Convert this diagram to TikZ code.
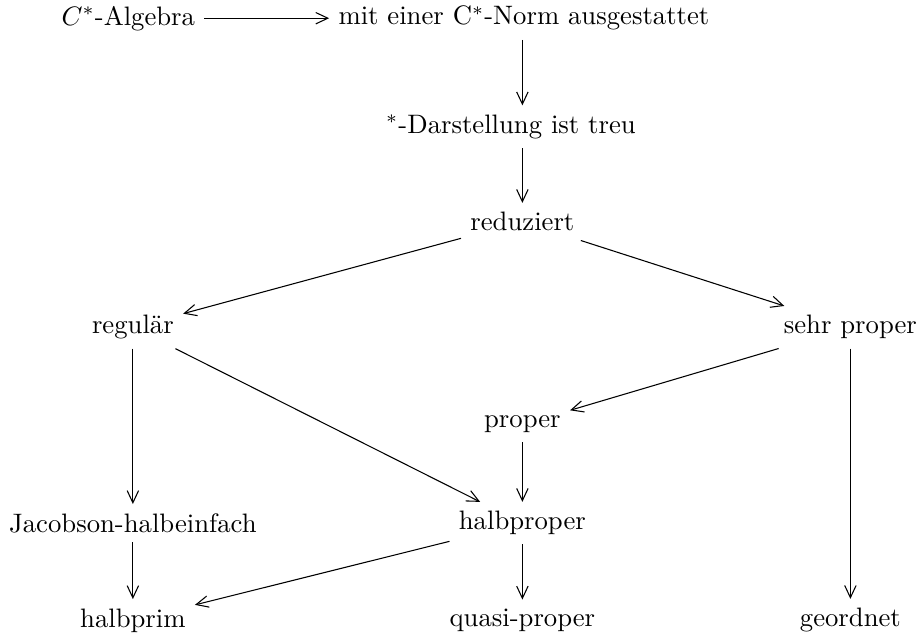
\documentclass[tikz,border=0pt]{standalone}
\usepackage{fontspec}
\usetikzlibrary{arrows.meta}

\begin{document}
\begin{tikzpicture}[>={Straight Barb[length=1.6mm,width=1.5mm]}, every node/.style={inner sep=0.333em}]
    \useasboundingbox (0,0) rectangle (12.13,-8.44);
    \node (cst) at (1.69,-0.24) {$C^*$-Algebra};
    \node (nrm) at (6.9,-0.24) {mit einer C$^*$-Norm ausgestattet};
    \node (dar) at (6.73,-1.67) {$^*$-Darstellung ist treu};
    \node (red) at (6.88,-2.92) {reduziert};
    \node (reg) at (1.75,-4.31) {regulär};
    \node (spr) at (11.2,-4.31) {sehr proper};
    \node (prp) at (6.88,-5.59) {proper};
    \node (jac) at (1.75,-6.89) {Jacobson-halbeinfach};
    \node (hpr) at (6.88,-6.89) {halbproper};
    \node (hpm) at (1.75,-8.17) {halbprim};
    \node (qpr) at (6.88,-8.17) {quasi-proper};
    \node (geo) at (11.2,-8.17) {geordnet};
    
    \draw[->] (cst) -- (nrm);
    \draw[->] (nrm.south -| red) -- (dar.north -| red);
    \draw[->] (dar.south -| red) -- (red);
    \draw[->] (red) -- (reg);
    \draw[->] (red) -- (spr);
    \draw[->] (reg) -- (jac);
    \draw[->] (reg) -- (hpr);
    \draw[->] (spr) -- (prp);
    \draw[->] (spr) -- (geo);
    \draw[->] (prp) -- (hpr);
    \draw[->] (jac) -- (hpm);
    \draw[->] (hpr) -- (hpm);
    \draw[->] (hpr) -- (qpr);
  \end{tikzpicture}
\end{document}
